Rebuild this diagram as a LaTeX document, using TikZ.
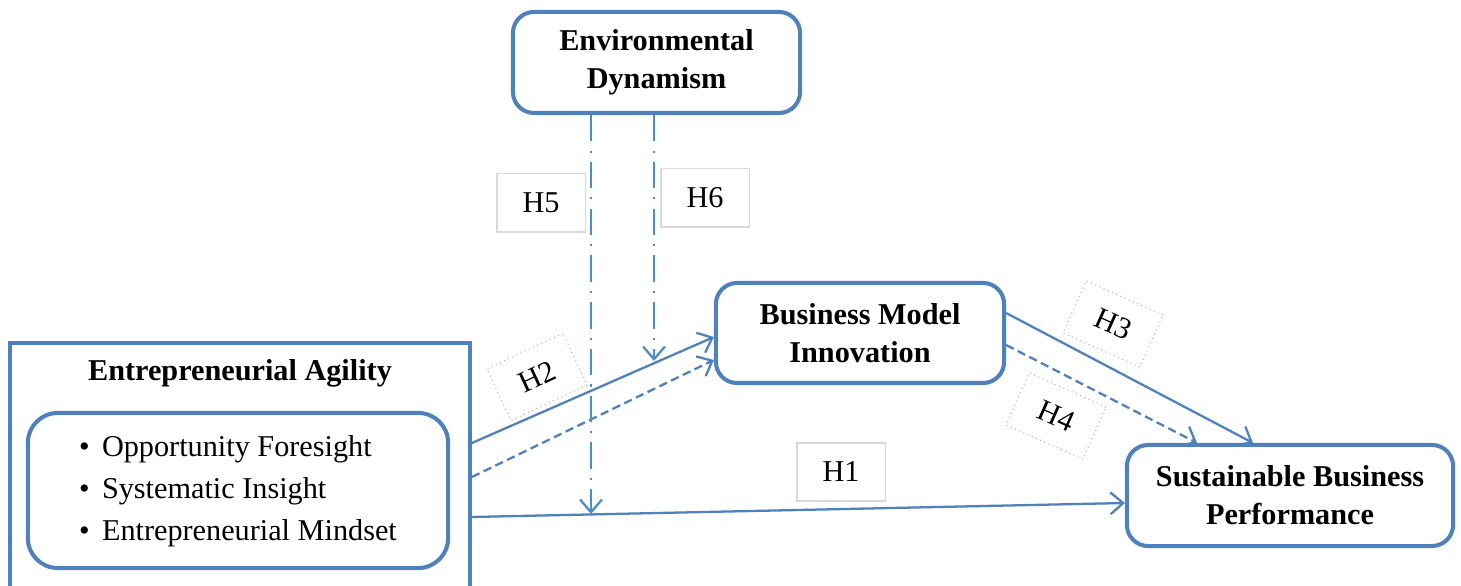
\documentclass[tikz,border=0pt]{standalone}
\usepackage{fontspec}
\setmainfont{Liberation Serif}
\usepackage{tikz}
\usetikzlibrary{arrows.meta,positioning,calc}
\definecolor{boxblue}{HTML}{4F81BD}
\definecolor{modblue}{HTML}{4A8EC8}

\begin{document}
\begin{tikzpicture}[x=0.01cm,y=-0.01cm,
    construct/.style={draw=boxblue, line width=1.15pt, rounded corners=6pt, fill=white,
      inner sep=0pt, align=center, font=\fontsize{8.6}{10.8}\selectfont\bfseries},
    hyp/.style={draw=boxblue, line width=0.65pt, -{Straight Barb[length=3.6pt,width=6.2pt]}},
    modline/.style={draw=modblue, line width=0.65pt, dash pattern=on 7.5pt off 2.6pt on 0.6pt off 2.6pt,
      -{Straight Barb[length=3.6pt,width=6.2pt]}},
    hlabel/.style={draw=gray!30, line width=0.3pt, minimum width=0.88cm, minimum height=0.58cm,
      inner sep=0pt, font=\fontsize{8.6}{10.8}\selectfont},
    rlabel/.style={hlabel, draw=gray!60, densely dotted, minimum width=0.84cm, minimum height=0.57cm}]

      \clip (0,0) rectangle (1461,586);
      \fill[white] (0,0) rectangle (1461,586);

      % constructs
      \node[construct, minimum width=2.87cm, minimum height=1.01cm] (env) at (656.5,62.5) {Environmental\\Dynamism};
      \node[construct, minimum width=2.88cm, minimum height=1.0cm] (bmi) at (860,333) {Business Model\\Innovation};
      \node[construct, minimum width=3.26cm, minimum height=1.01cm] (sbp) at (1290,495.5) {Sustainable Business\\Performance};

      \node[draw=boxblue, line width=1pt, minimum width=4.6cm, minimum height=2.54cm, inner sep=0pt] (agility) at (240,470) {};
      \node[font=\fontsize{8.6}{10.8}\selectfont\bfseries] (agtitle) at (240,373) {Entrepreneurial Agility};
      \node[draw=boxblue, line width=1.15pt, rounded corners=8.5pt, minimum width=4.2cm, minimum height=1.55cm,
        inner sep=0pt, font=\fontsize{8.6}{11.6}\selectfont] (dims) at (238,490.5)
        {\begin{tabular}{@{}l@{\hspace{3.5pt}}l@{}}
          \textbullet & Opportunity Foresight\\[0.4pt]
          \textbullet & Systematic Insight\\[0.4pt]
          \textbullet & Entrepreneurial Mindset
        \end{tabular}};

      % hypothesis labels
      \node[hlabel] (h5) at (541,203) {H5};
      \node[hlabel] (h6) at (705,198) {H6};
      \node[hlabel] (h1) at (841,472) {H1};
      \node[rlabel, rotate=25] (h2) at (537,377) {H2};
      \node[rlabel, rotate=-24] (h3) at (1113,324) {H3};
      \node[rlabel, rotate=-24] (h4) at (1056,416) {H4};

      % direct paths
      \draw[hyp] ($(agility.east)+(0,47)$) -- ($(sbp.west)+(0,7.5)$);
      \draw[hyp] ($(agility.east)+(0,-27)$) -- ($(bmi.west)+(0,4)$);
      \draw[hyp, dash pattern=on 2.4pt off 1.3pt] ($(agility.east)+(0,7)$) -- ($(bmi.west)+(0,27)$);
      \draw[hyp] ($(bmi.east)+(0,-20)$) -- ($(sbp.north)+(-37,0)$);
      \draw[hyp, dash pattern=on 2.4pt off 1.3pt] ($(bmi.east)+(0,12)$) -- ($(sbp.north)+(-93,0)$);

      % moderation
      \coordinate (h5end) at (591,514);
      \coordinate (h6end) at (654,361);
      \draw[modline] ($(env.south)+(-65.5,0)$) -- (h5end);
      \draw[modline] ($(env.south)+(-2.5,0)$) -- (h6end);

\end{tikzpicture}
\end{document}
